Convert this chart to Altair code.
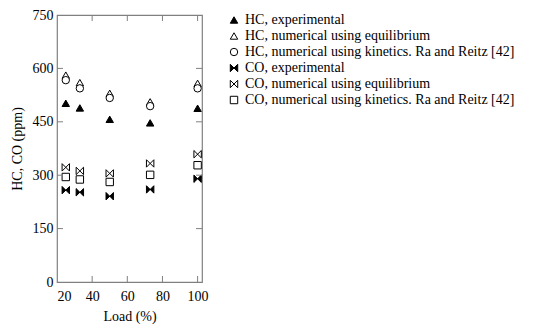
import altair as alt
import pandas as pd

load = [25, 33, 50, 73, 100]
hc_exp = [502, 489, 457, 447, 488]
hc_eq = [581, 560, 530, 506, 558]
hc_kin = [567, 544, 517, 494, 544]
co_exp = [258, 252, 241, 260, 290]
co_eq = [322, 312, 305, 333, 359]
co_kin = [295, 288, 281, 301, 328]

series_names = [
    "HC, experimental",
    "HC, numerical using equilibrium",
    "HC, numerical using kinetics. Ra and Reitz [42]",
    "CO, experimental",
    "CO, numerical using equilibrium",
    "CO, numerical using kinetics. Ra and Reitz [42]",
]
series_vals = [hc_exp, hc_eq, hc_kin, co_exp, co_eq, co_kin]

x_ticks = [20, 40, 60, 80, 100]
y_ticks = [0, 150, 300, 450, 600, 750]

rows = []
for name, vals in zip(series_names, series_vals):
    for x, v in zip(load, vals):
        rows.append({"series": name, "load": x, "ppm": v})
df = pd.DataFrame(rows)

W, H = 145, 267
FONT = "Liberation Serif"
GRAY = "#808080"
bowtie = "M-1,-1L1,1L1,-1L-1,1Z"

xscale = alt.Scale(domain=[20, 102.5], nice=False, zero=False)
yscale = alt.Scale(domain=[0, 750], nice=False)


def x_axis():
    return alt.Axis(values=x_ticks, grid=False, domain=False,
                    ticks=False, labelPadding=7, titlePadding=6, format="d",
                    labelOverlap=False, labelFont=FONT, labelFontSize=14,
                    labelColor="black")


def y_axis():
    return alt.Axis(values=y_ticks, grid=False, domain=False,
                    ticks=False, labelPadding=4, titlePadding=8, format="d",
                    labelOverlap=False, labelFont=FONT, labelFontSize=14,
                    labelColor="black")


def make_legend():
    return alt.Legend(title=None, orient="none", legendX=170, legendY=-2,
                      labelFont=FONT, labelFontSize=14, labelColor="black",
                      rowPadding=2, labelOffset=4, symbolStrokeColor="black",
                      symbolStrokeWidth=1, symbolSize=55, padding=0, labelLimit=400)


points = alt.Chart(df).mark_point(size=55, strokeWidth=1, opacity=1).encode(
    x=alt.X("load:Q", scale=xscale, title="Load (%)", axis=x_axis()),
    y=alt.Y("ppm:Q", scale=yscale, title="HC, CO (ppm)", axis=y_axis()),
    shape=alt.Shape("series:N", scale=alt.Scale(domain=series_names,
                    range=["triangle-up", "triangle-up", "circle", bowtie, bowtie, "square"]),
                    legend=make_legend()),
    fill=alt.Fill("series:N", scale=alt.Scale(domain=series_names,
                  range=["black", "white", "white", "black", "white", "white"]),
                  legend=make_legend()),
    stroke=alt.Stroke("series:N", scale=alt.Scale(domain=series_names,
                      range=["black"] * 6), legend=make_legend()),
)

xt_df = pd.DataFrame({"t": x_ticks[1:]})
yt_df = pd.DataFrame({"t": y_ticks[1:-1]})

bottom_ticks = alt.Chart(xt_df).mark_rule(color=GRAY, strokeWidth=1).encode(
    x=alt.X("t:Q", scale=xscale, title="Load (%)", axis=x_axis()),
    y=alt.value(H), y2=alt.value(H - 6))
top_ticks = alt.Chart(xt_df).mark_rule(color=GRAY, strokeWidth=1).encode(
    x=alt.X("t:Q", scale=xscale, title="Load (%)", axis=x_axis()),
    y=alt.value(0), y2=alt.value(6))
left_ticks = alt.Chart(yt_df).mark_rule(color=GRAY, strokeWidth=1).encode(
    y=alt.Y("t:Q", scale=yscale, title="HC, CO (ppm)", axis=y_axis()),
    x=alt.value(0), x2=alt.value(6))
right_ticks = alt.Chart(yt_df).mark_rule(color=GRAY, strokeWidth=1).encode(
    y=alt.Y("t:Q", scale=yscale, title="HC, CO (ppm)", axis=y_axis()),
    x=alt.value(W), x2=alt.value(W - 6))

chart = alt.layer(points, bottom_ticks, top_ticks, left_ticks, right_ticks).properties(
    width=W, height=H,
    autosize=alt.AutoSizeParams(type="none"),
    padding={"left": 49, "top": 7, "right": 340, "bottom": 43},
    background="white",
).configure_view(stroke=GRAY, strokeWidth=1.2).configure_axis(
    labelFont=FONT, titleFont=FONT, labelFontSize=14, titleFontSize=14,
    labelColor="black", titleColor="black", titleFontWeight="normal",
)

chart.save("out.html", embed_options={"renderer": "svg", "actions": False})
